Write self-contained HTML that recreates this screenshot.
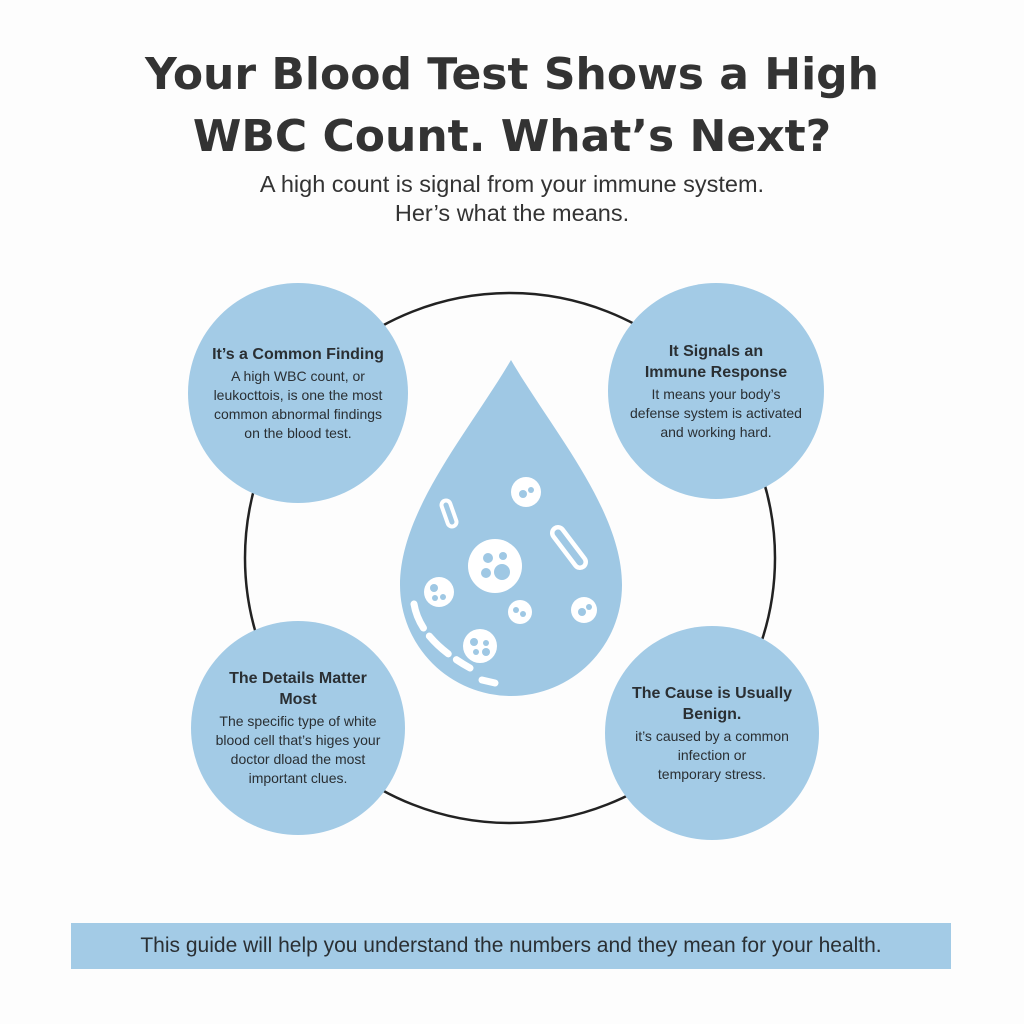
<!DOCTYPE html>
<html><head><style>
body{margin:0;width:1024px;height:1024px;background:#fdfdfd;font-family:"Liberation Sans","DejaVu Sans",sans-serif;color:#333;position:relative;overflow:hidden}
.t{position:absolute;left:0;width:1024px;text-align:center}
h1{margin:0;font-size:44px;font-weight:bold;line-height:62px;color:#333;font-family:"DejaVu Sans",sans-serif}
.c{position:absolute;border-radius:50%;background:#a3cbe6;display:flex;flex-direction:column;align-items:center;justify-content:center;text-align:center;color:#2a2f33}
.c b{font-size:16px;line-height:21px;display:block;margin-bottom:2px}
.c span{font-size:14px;line-height:19px}
</style></head><body>
<div class="t" style="top:44px"><h1>Your Blood Test Shows a High<br>WBC Count. What’s Next?</h1></div>
<div class="t" style="top:170px;font-size:23.5px;line-height:29px;color:#333">A high count is signal from your immune system.<br>Her’s what the means.</div>
<svg style="position:absolute;left:0;top:0" width="1024" height="1024">
<circle cx="510" cy="558" r="265" fill="none" stroke="#222" stroke-width="2.5"/>
<path d="M511 360 C 470 430, 400 510, 400 585 A 111 111 0 0 0 622 585 C 622 510, 552 430, 511 360 Z" fill="#9fc8e4"/>
<g fill="#fff">
<circle cx="495" cy="566" r="27"/>
<circle cx="439" cy="592" r="15"/>
<circle cx="520" cy="612" r="12"/>
<circle cx="480" cy="646" r="17"/>
<circle cx="526" cy="492" r="15"/>
<circle cx="584" cy="610" r="13"/>
</g>
<g fill="#9fc8e4">
<circle cx="488" cy="558" r="5"/><circle cx="503" cy="556" r="4"/><circle cx="486" cy="573" r="5"/><circle cx="502" cy="572" r="8"/>
<circle cx="434" cy="588" r="4"/><circle cx="443" cy="597" r="3"/><circle cx="435" cy="598" r="3"/>
<circle cx="516" cy="610" r="3"/><circle cx="523" cy="614" r="3"/>
<circle cx="474" cy="642" r="4"/><circle cx="486" cy="643" r="3"/><circle cx="476" cy="652" r="3"/><circle cx="486" cy="652" r="4"/>
<circle cx="523" cy="494" r="4"/><circle cx="531" cy="490" r="3"/>
<circle cx="582" cy="612" r="4"/><circle cx="589" cy="607" r="3"/>
</g>
<path d="M558 533 L 580 562" stroke="#fff" stroke-width="16" stroke-linecap="round"/>
<path d="M558 533 L 580 562" stroke="#9fc8e4" stroke-width="7" stroke-linecap="round"/>
<path d="M446 505 L 452 522" stroke="#fff" stroke-width="13" stroke-linecap="round"/>
<path d="M446 505 L 452 522" stroke="#9fc8e4" stroke-width="5" stroke-linecap="round"/>
<path d="M414 604 Q 420 640 470 668" fill="none" stroke="#fff" stroke-width="7" stroke-linecap="round" stroke-dasharray="26 10"/>
<path d="M482 680 L 495 683" stroke="#fff" stroke-width="7" stroke-linecap="round"/>
</svg>
<div class="c" style="left:188px;top:283px;width:220px;height:220px"><b>It’s a Common Finding</b><span>A high WBC count, or<br>leukocttois, is one the most<br>common abnormal findings<br>on the blood test.</span></div>
<div class="c" style="left:608px;top:283px;width:216px;height:216px"><b>It Signals an<br>Immune Response</b><span>It means your body’s<br>defense system is activated<br>and working hard.</span></div>
<div class="c" style="left:191px;top:621px;width:214px;height:214px"><b>The Details Matter<br>Most</b><span>The specific type of white<br>blood cell that’s higes your<br>doctor dload the most<br>important clues.</span></div>
<div class="c" style="left:605px;top:626px;width:214px;height:214px"><b>The Cause is Usually<br>Benign.</b><span>it’s caused by a common<br>infection or<br>temporary stress.</span></div>
<div style="position:absolute;left:71px;top:923px;width:880px;height:46px;background:#a3cbe6;text-align:center;font-size:21px;line-height:46px;color:#2a2f33">This guide will help you understand the numbers and they mean for your health.</div>
</body></html>
